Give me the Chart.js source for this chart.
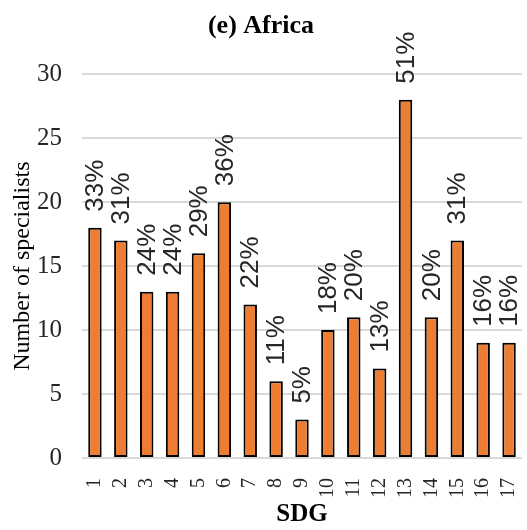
<!DOCTYPE html>
<html>
<head>
<meta charset="utf-8">
<script src="https://cdn.jsdelivr.net/npm/chart.js@4/dist/chart.umd.min.js"></script>
<style>
  html, body { margin: 0; padding: 0; background: #fff; }
  #chart { display: block; }
</style>
</head>
<body>
<canvas id="chart" width="527" height="530"></canvas>
<script>
const sdgLabels = ['1', '2', '3', '4', '5', '6', '7', '8', '9', '10', '11', '12', '13', '14', '15', '16', '17'];
const specialists = [18, 17, 13, 13, 16, 20, 12, 6, 3, 10, 11, 7, 28, 11, 17, 9, 9];
const shareLabels = ['33%', '31%', '24%', '24%', '29%', '36%', '22%', '11%', '5%', '18%', '20%', '13%', '51%', '20%', '31%', '16%', '16%'];

const serif = '"Liberation Serif", "Times New Roman", serif';

// percent labels above each bar, turned to read bottom-up
const barLabels = {
    id: 'barLabels',
    afterDatasetsDraw(chart) {
        const ctx = chart.ctx;
        const bars = chart.getDatasetMeta(0).data;
        ctx.save();
        ctx.font = '26px "Liberation Sans", Arial, sans-serif';
        ctx.fillStyle = '#262626';
        ctx.textAlign = 'left';
        ctx.textBaseline = 'middle';
        bars.forEach((bar, i) => {
            ctx.save();
            ctx.translate(bar.x + 1, bar.y - 16);
            ctx.rotate(-Math.PI / 2);
            ctx.fillText(shareLabels[i], 0, 0);
            ctx.restore();
        });
        ctx.restore();
    }
};

new Chart(document.getElementById('chart'), {
    type: 'bar',
    data: {
        labels: sdgLabels,
        datasets: [{
            data: specialists,
            backgroundColor: '#ED7D31',
            borderColor: '#000000',
            borderWidth: 2,
            borderSkipped: false,
            barPercentage: 0.52,
            categoryPercentage: 1
        }]
    },
    options: {
        responsive: false,
        animation: false,
        layout: { padding: { left: 0, right: 5, top: 0, bottom: 0 } },
        plugins: {
            legend: { display: false },
            tooltip: { enabled: false },
            title: {
                display: true,
                text: '(e) Africa',
                color: '#000',
                font: { family: serif, size: 26, weight: 'bold' },
                padding: { top: 11, bottom: 32 }
            }
        },
        scales: {
            x: {
                grid: { display: false },
                border: { display: false },
                ticks: {
                    color: '#262626',
                    font: { family: serif, size: 20 },
                    maxRotation: 90,
                    minRotation: 90,
                    autoSkip: false,
                    padding: 12
                },
                title: {
                    display: true,
                    text: 'SDG',
                    color: '#000',
                    font: { family: serif, size: 25, weight: 'bold' },
                    padding: { top: 0, bottom: 0 }
                },
                afterFit(scale) {
                    scale.height = 72;
                    scale.paddingLeft = 0;
                    scale.paddingRight = 0;
                }
            },
            y: {
                min: 0,
                max: 30,
                grid: { color: '#d9d9d9', lineWidth: 2, drawTicks: false },
                border: { display: false },
                ticks: {
                    stepSize: 5,
                    color: '#262626',
                    font: { family: serif, size: 25 },
                    padding: 20
                },
                title: {
                    display: true,
                    text: 'Number of specialists',
                    color: '#000',
                    font: { family: serif, size: 24 },
                    padding: { top: 8, bottom: 0 }
                },
                afterFit(scale) {
                    scale.width = 82;
                }
            }
        }
    },
    plugins: [barLabels]
});
</script>
</body>
</html>
